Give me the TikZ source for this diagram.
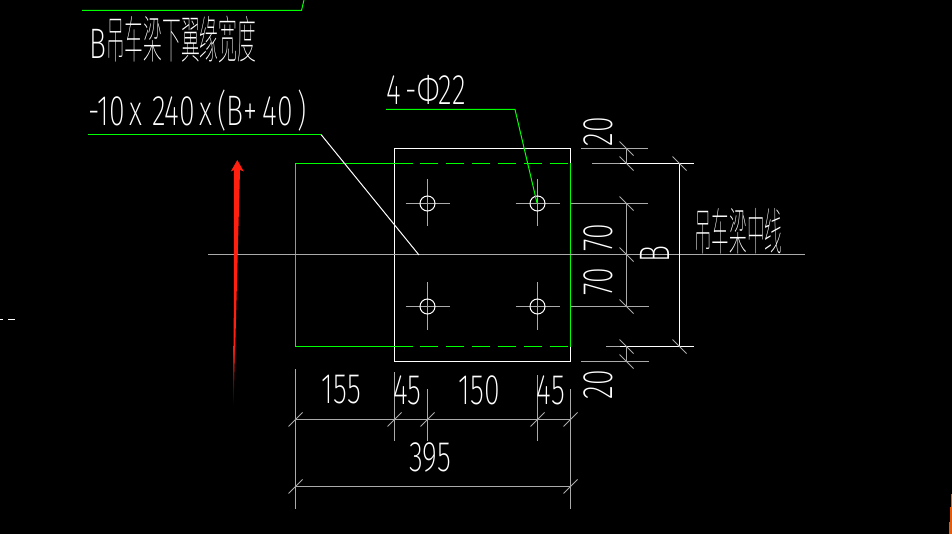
\documentclass[tikz,border=0pt]{standalone}
\usepackage{xcolor}
\usepackage{fontspec}
\usepackage{tikz}
\setmainfont{Fira Sans ExtraLight}
\newfontfamily\cjk{Noto Sans CJK SC Thin}
\definecolor{cadgreen}{RGB}{0,255,0}
\definecolor{cadgray}{RGB}{170,170,170}
\definecolor{arrowred}{RGB}{255,32,16}
\definecolor{cadorange}{RGB}{230,90,10}

\begin{document}
\begin{tikzpicture}[x=0.75pt, y=-0.75pt, line width=0.75pt,
    plate/.style={draw=white},
    beam/.style={draw=cadgreen},
    axisline/.style={draw=cadgray},
    dimtext/.style={text=white, font=\fontsize{32}{32}\selectfont, xscale=0.67, inner sep=0pt},
    cjktext/.style={text=white, font=\fontsize{38}{38}\selectfont, xscale=0.37, inner sep=0pt}]
    \fill[black] (0,0) rectangle (952,534);
    \useasboundingbox (0,0) rectangle (952,534);

    % plate and beam
    \draw[plate] (394.5,148.5) rectangle (570.5,361.5);
    \draw[beam] (412.7,163.5) -- (295.5,163.5) -- (295.5,346.5) -- (412.7,346.5);
    \draw[beam] (570.5,163.5) -- (570.5,346.5);
    \foreach \y in {163.5,346.5}
        \foreach \x in {420,446,472,498,524,550}
            \draw[beam] (\x,\y) -- ++(17.7,0);
    \draw[axisline] (208,254.5) -- (805,254.5);

    % holes
    \foreach \x/\y in {427.5/203.5,537.5/203.5,427.5/306.5,537.5/306.5} {
        \draw[axisline] (\x-22,\y) -- (\x+22,\y);
        \draw[axisline] (\x,\y-24) -- (\x,\y+23);
        \draw[plate] (\x,\y) circle (7.5);
    }

    % leaders
    \draw[beam] (82,10.5) -- (301.5,10.5) -- (304,0);
    \draw[beam] (87.5,134.5) -- (321,134.5);
    \draw[plate] (321,134.5) -- (419,255);
    \draw[beam] (386,109.5) -- (515,109.5) -- (537,203);

    % right dimensions
    \draw[axisline] (581,148.5) -- (648,148.5);
    \draw[axisline] (592,163.5) -- (620,163.5);
    \draw[plate] (620,163.5) -- (694,163.5);
    \draw[axisline] (570.5,203.5) -- (648,203.5);
    \draw[axisline] (570.5,306.5) -- (649,306.5);
    \draw[axisline] (606,346.5) -- (620,346.5);
    \draw[plate] (620,346.5) -- (694,346.5);
    \draw[axisline] (581,361.5) -- (649,361.5);
    \draw[axisline] (626.5,148.5) -- (626.5,163.5);
    \draw[axisline] (626.5,203.5) -- (626.5,306.5);
    \draw[axisline] (626.5,346.5) -- (626.5,361.5);
    \draw[plate] (679.5,163.5) -- (679.5,346.5);
    \foreach \x/\y in {626.5/148.5,626.5/163.5,626.5/203.5,626.5/254.5,626.5/306.5,626.5/346.5,626.5/361.5,679.5/163.5,679.5/346.5}
        \draw[axisline] (\x-7,\y-7) -- (\x+7,\y+7);

    % bottom dimensions
    \draw[axisline] (295.5,369) -- (295.5,509);
    \draw[axisline] (394.5,372) -- (394.5,441);
    \draw[axisline] (427.5,389) -- (427.5,441);
    \draw[axisline] (537.5,375) -- (537.5,441);
    \draw[axisline] (570.5,389) -- (570.5,509);
    \draw[axisline] (295.5,419.5) -- (570.5,419.5);
    \draw[axisline] (295.5,486.5) -- (570.5,486.5);
    \foreach \x/\y in {295.5/419.5,394.5/419.5,427.5/419.5,537.5/419.5,570.5/419.5,295.5/486.5,570.5/486.5}
        \draw[axisline] (\x-7,\y+7) -- (\x+7,\y-7);

    % labels
    \node[cjktext, anchor=west] (widthnote) at (89,40) {\scalebox{1.8}[1]{\fontsize{32}{32}\selectfont B}\cjk 吊车梁下翼缘宽度};
    \node[dimtext, anchor=west] (platesize) at (88,111) {-10\,x\,\,240\,x\,(B+\,40\,)};
    \node[dimtext, anchor=west] (holes) at (386,90) {4\,-Φ22};
    \node[cjktext, xscale=0.94, anchor=west] (centerline) at (694,231) {\cjk 吊车梁中线};
    \node[dimtext] (dimA) at (341.5,390) {155};
    \node[dimtext] (dimB) at (407.5,390) {45};
    \node[dimtext] (dimC) at (479.5,390) {150};
    \node[dimtext] (dimD) at (551,390) {45};
    \node[dimtext] (dimE) at (430,457) {395};
    \node[rotate=90, dimtext] (dimF) at (598,131.5) {20};
    \node[rotate=90, dimtext] (dimG) at (598,237.5) {70};
    \node[rotate=90, dimtext] (dimH) at (598,282) {70};
    \node[rotate=90, dimtext] (dimI) at (598,384.5) {20};
    \node[rotate=90, dimtext] (dimJ) at (654.5,254.5) {B};

    % red arrow
    \fill[arrowred] (237.3,160) -- (243.8,171.5) -- (240,170) -- (235.3,345) -- (233.7,345) -- (234,170) -- (230.8,171.5) -- cycle;
    \shade[top color=arrowred, bottom color=black] (235.3,345) -- (233.5,405) -- (233.7,345) -- cycle;

    % screen edge
    \draw[plate] (0,319.5) -- (3,319.5) (8,319.5) -- (15,319.5);
    \fill[cadorange] (952,494) -- (951,494) -- (951,507) -- (950,507) -- (950,522) -- (949,522) -- (949,534) -- (952,534) -- cycle;
\end{tikzpicture}
\end{document}
